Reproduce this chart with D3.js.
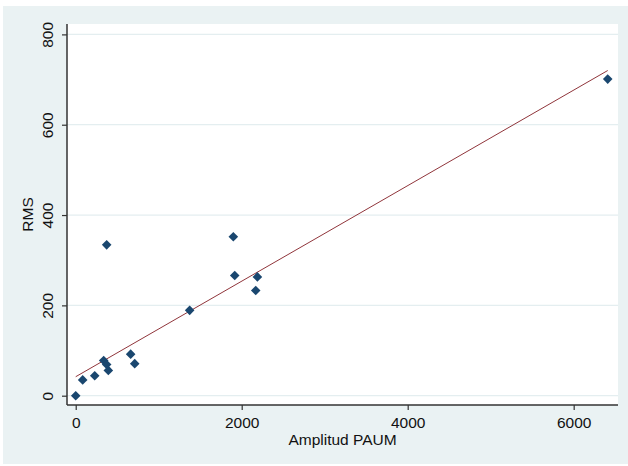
<!DOCTYPE html>
<html>
<head>
<meta charset="utf-8">
<script src="https://cdn.jsdelivr.net/npm/d3@7"></script>
<style>
body{margin:0;background:#fff;}
text{font-family:"Liberation Sans",Arial,sans-serif;}
</style>
</head>
<body>
<svg id="canvas" width="628" height="466"></svg>
<script>
// scatter values
var amplitud = [0, 84, 229, 337, 373, 393, 373, 662, 711, 1373, 1899, 1916, 2169, 2189, 6410];
var rms = [0, 35, 44, 78, 69, 56, 334, 92, 71, 189, 352, 266, 233, 263, 701];
// fitted line ends, as drawn
var fitX = [0, 6410];
var fitY = [42, 720];
var xTicks = [0, 2000, 4000, 6000];
var yTicks = [0, 200, 400, 600, 800];

var svg = d3.select("#canvas");

// outer panel
svg.append("rect").attr("x", 3).attr("y", 6).attr("width", 625).attr("height", 458).attr("fill", "#eaf2f3");

var pLeft = 67, pRight = 618, pTop = 24, pBottom = 405;
svg.append("rect").attr("x", pLeft).attr("y", pTop).attr("width", pRight - pLeft).attr("height", pBottom - pTop).attr("fill", "#fff");

var x = d3.scaleLinear().domain([-105, 6534]).range([pLeft, pRight]);
var y = d3.scaleLinear().domain([-20.6, 823]).range([pBottom, pTop]);

// grid
svg.append("g").selectAll("line")
	.data(yTicks)
	.enter()
	.append("line")
		.attr("x1", pLeft).attr("x2", pRight)
		.attr("y1", function(d){ return y(d); })
		.attr("y2", function(d){ return y(d); })
		.attr("stroke", "#e4eef0")
		.attr("stroke-width", 1.2);

// axes
var xAxis = svg.append("g")
	.attr("transform", "translate(0," + pBottom + ")")
	.call(d3.axisBottom(x).tickValues(xTicks).tickFormat(d3.format("d")).tickSize(5).tickPadding(4).tickSizeOuter(0));
var yAxis = svg.append("g")
	.attr("transform", "translate(" + pLeft + ",0)")
	.call(d3.axisLeft(y).tickValues(yTicks).tickFormat(d3.format("d")).tickSize(5).tickPadding(4).tickSizeOuter(0));

xAxis.select(".domain").attr("d", "M" + pLeft + ",0H" + pRight).attr("stroke", "#333").attr("stroke-width", 1.5);
yAxis.select(".domain").attr("d", "M0," + pTop + "V" + pBottom).attr("stroke", "#333").attr("stroke-width", 1.5);
svg.selectAll(".tick line").attr("stroke", "#333").attr("stroke-width", 1.2);
svg.selectAll(".tick text").attr("font-size", 15.5).attr("fill", "#111").attr("font-family", "Liberation Sans, Arial, sans-serif");

xAxis.selectAll(".tick text").attr("dy", "0.88em");
yAxis.selectAll(".tick text")
	.attr("text-anchor", "middle")
	.attr("x", null)
	.attr("dy", null)
	.attr("transform", "translate(-14,0) rotate(-90)");

// axis titles
svg.append("text")
	.attr("x", (pLeft + pRight) / 2).attr("y", 445)
	.attr("text-anchor", "middle")
	.attr("font-size", 15.5).attr("fill", "#111")
	.text("Amplitud PAUM");
svg.append("text")
	.attr("transform", "translate(33," + ((pTop + pBottom) / 2) + ") rotate(-90)")
	.attr("text-anchor", "middle")
	.attr("font-size", 15.5).attr("fill", "#111")
	.text("RMS");

// fitted line
svg.append("line")
	.attr("x1", x(fitX[0])).attr("y1", y(fitY[0]))
	.attr("x2", x(fitX[1])).attr("y2", y(fitY[1]))
	.attr("stroke", "#90353b")
	.attr("stroke-width", 1);

// points
var pts = amplitud.map(function(d, i){ return [d, rms[i]]; });
svg.append("g").selectAll("path")
	.data(pts)
	.enter()
	.append("path")
		.attr("transform", function(d){ return "translate(" + x(d[0]) + "," + y(d[1]) + ")"; })
		.attr("d", "M0,-4.8L4.8,0L0,4.8L-4.8,0Z")
		.attr("fill", "#1a476f");
</script>
</body>
</html>
